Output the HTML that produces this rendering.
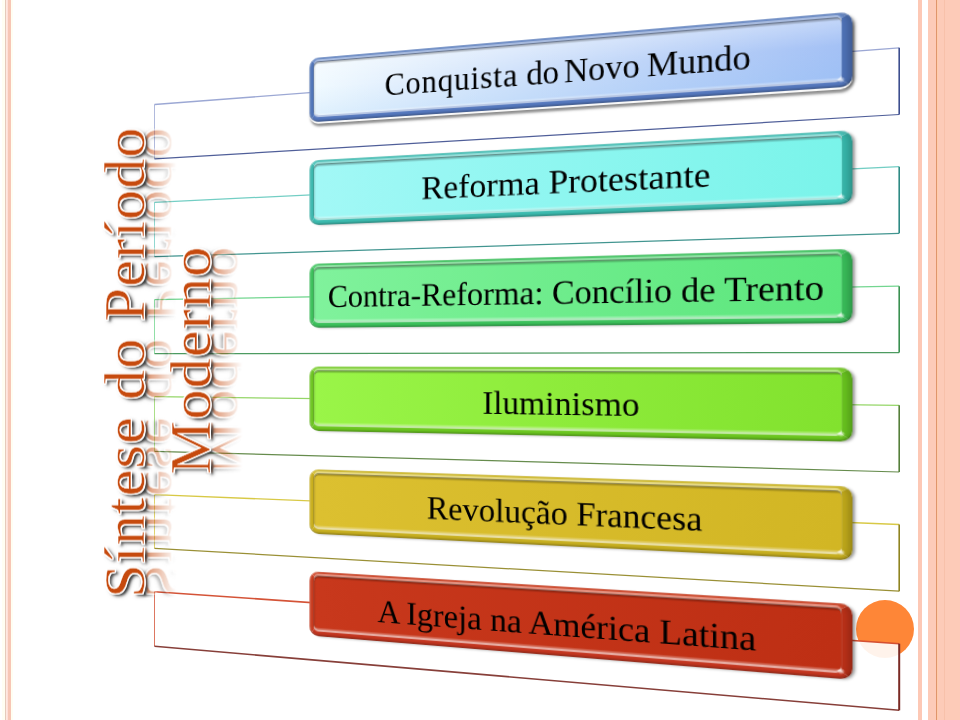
<!DOCTYPE html>
<html lang="pt"><head><meta charset="utf-8"><title>Síntese do Período Moderno</title>
<style>
html,body{margin:0;padding:0;background:#fff;}
body{width:960px;height:720px;position:relative;overflow:hidden;font-family:"Liberation Serif",serif;}
.a{position:absolute;}
.box{position:absolute;left:0;top:0;box-sizing:border-box;transform-origin:0 0;border-style:solid;border-width:5px 9px 7px 5px;border-radius:10px;
 display:flex;align-items:center;justify-content:center;color:#000;white-space:nowrap;background-clip:padding-box;
 box-shadow:inset 0 1.5px 1px rgba(0,0,0,.25),inset 1.5px 0 1px rgba(0,0,0,.1),inset 0 -1.5px 1px rgba(255,255,255,.35),3px 1px 3px -1px rgba(0,0,0,.42);}
.box.b1{box-shadow:inset 0 1.5px 1px rgba(0,0,0,.25),inset 1.5px 0 1px rgba(0,0,0,.1),inset 0 -1.5px 1px rgba(255,255,255,.35),0 2px 0 rgba(255,255,255,.95),1px 4.5px 2.5px rgba(0,0,0,.42),3px 2px 3px -1px rgba(0,0,0,.45);}
.box::before{content:"";position:absolute;left:-5px;top:-5px;right:-9px;bottom:-7px;border-radius:10px;
 box-shadow:inset 0 1px 1px rgba(255,255,255,.18),inset 1.5px 0 1.5px rgba(255,255,255,.25),inset -4px 0 4px rgba(0,0,0,.15),inset 0 -1.5px 1.5px rgba(0,0,0,.22);}
.box::after{content:"";position:absolute;right:-3px;bottom:-3px;width:7px;height:6px;border-radius:50%;background:radial-gradient(closest-side,rgba(255,255,255,.85),rgba(255,255,255,0));}
.box i{position:absolute;left:0;top:0;right:0;bottom:0;border-radius:5px;
 box-shadow:0 -1px .6px rgba(0,0,0,.34),0 -2.8px .8px rgba(255,255,255,.42),0 1.6px .8px rgba(255,255,255,.6),-1px 0 .6px rgba(0,0,0,.16);}
.box span{position:relative;display:inline-block;}
.tw{position:absolute;left:0;top:720px;width:720px;height:300px;transform-origin:0 0;transform:rotate(-90deg);}
.tl{position:absolute;left:357.5px;white-space:nowrap;font-size:57.5px;line-height:57.5px;transform:translateX(-50%) scaleX(1.045);letter-spacing:1.1px;color:#c64a0e;}
.tm{-webkit-box-reflect:below -18.7px linear-gradient(to bottom,transparent 17px,rgba(0,0,0,.62) 48px,rgba(0,0,0,.62) 58px);-webkit-text-stroke:.45px #fff;text-shadow:-1px 0 0 #fff,1px 0 0 #fff,0 -1px 0 #fff,0 1px 0 #fff,-1px -1px 0 #fff,1px 1px 0 #fff,-1px 1px 0 #fff,1px -1px 0 #fff,-2px 3px 2.5px rgba(40,40,40,.85),-2px 3px 4px rgba(60,60,60,.6);}
</style></head><body>
<div class="a" style="left:2px;top:0;width:11px;height:720px;background:#fffef2"></div>
<div class="a" style="left:5px;top:0;width:1px;height:720px;background:#e5cbbb"></div>
<div class="a" style="left:6px;top:0;width:2px;height:720px;background:linear-gradient(90deg,#ffece6,#fddcd2)"></div>
<div class="a" style="left:8px;top:0;width:3px;height:720px;background:#f7c6b5"></div>
<div class="a" style="left:918px;top:0;width:4px;height:720px;background:#fdc8b5"></div>
<div class="a" style="left:928px;top:0;width:32px;height:720px;background:#fdcbb8"></div>
<div class="a" style="left:936px;top:0;width:1px;height:720px;background:#e0956c"></div>
<div class="a" style="left:937px;top:0;width:1px;height:720px;background:#ffcdab"></div>
<div class="a" style="left:944px;top:0;width:1px;height:720px;background:#f8c1aa"></div>
<div class="a" style="left:856px;top:600px;width:58px;height:58px;border-radius:50%;background:#fe8637"></div>

<svg class="a" style="left:0;top:0" width="960" height="720" viewBox="0 0 960 720">
<polygon points="154.5,104.5 899.2,47.8 899.2,114.5 154.5,158.8" fill="rgba(255,255,255,.9)"/>
<line x1="154.5" y1="104.5" x2="154.5" y2="158.8" stroke="#97a3d2" stroke-width="1" stroke-opacity=".75"/>
<line x1="154.5" y1="104.5" x2="899.2" y2="47.8" stroke="#97a3d2" stroke-width="1.30" stroke-opacity=".95"/>
<line x1="154.5" y1="158.8" x2="899.2" y2="114.5" stroke="#3d4e8e" stroke-width="1.25" stroke-opacity=".9"/>
<line x1="899.2" y1="47.8" x2="899.2" y2="114.5" stroke="#3d4e8e" stroke-width="1.60"/>
<polygon points="154.5,202.3 899.2,166.7 899.2,233.3 154.5,256.7" fill="rgba(255,255,255,.9)"/>
<line x1="154.5" y1="202.3" x2="154.5" y2="256.7" stroke="#6ccbc1" stroke-width="1" stroke-opacity=".75"/>
<line x1="154.5" y1="202.3" x2="899.2" y2="166.7" stroke="#6ccbc1" stroke-width="1.30" stroke-opacity=".95"/>
<line x1="154.5" y1="256.7" x2="899.2" y2="233.3" stroke="#2e8a84" stroke-width="1.25" stroke-opacity=".9"/>
<line x1="899.2" y1="166.7" x2="899.2" y2="233.3" stroke="#2e8a84" stroke-width="1.60"/>
<polygon points="154.5,299.7 899.2,286.2 899.2,352.5 154.5,353.7" fill="rgba(255,255,255,.9)"/>
<line x1="154.5" y1="299.7" x2="154.5" y2="353.7" stroke="#6cd48a" stroke-width="1" stroke-opacity=".75"/>
<line x1="154.5" y1="299.7" x2="899.2" y2="286.2" stroke="#6cd48a" stroke-width="1.30" stroke-opacity=".95"/>
<line x1="154.5" y1="353.7" x2="899.2" y2="352.5" stroke="#3a9050" stroke-width="1.25" stroke-opacity=".9"/>
<line x1="899.2" y1="286.2" x2="899.2" y2="352.5" stroke="#3a9050" stroke-width="1.60"/>
<polygon points="154.5,396.7 899.2,405.3 899.2,472.0 154.5,451.3" fill="rgba(255,255,255,.9)"/>
<line x1="154.5" y1="396.7" x2="154.5" y2="451.3" stroke="#8fd460" stroke-width="1" stroke-opacity=".75"/>
<line x1="154.5" y1="396.7" x2="899.2" y2="405.3" stroke="#8fd460" stroke-width="1.30" stroke-opacity=".95"/>
<line x1="154.5" y1="451.3" x2="899.2" y2="472.0" stroke="#557f3a" stroke-width="1.25" stroke-opacity=".9"/>
<line x1="899.2" y1="405.3" x2="899.2" y2="472.0" stroke="#557f3a" stroke-width="1.60"/>
<polygon points="154.5,494.7 899.2,524.5 899.2,591.2 154.5,548.3" fill="rgba(255,255,255,.9)"/>
<line x1="154.5" y1="494.7" x2="154.5" y2="548.3" stroke="#d6c63c" stroke-width="1" stroke-opacity=".75"/>
<line x1="154.5" y1="494.7" x2="899.2" y2="524.5" stroke="#d6c63c" stroke-width="1.30" stroke-opacity=".95"/>
<line x1="154.5" y1="548.3" x2="899.2" y2="591.2" stroke="#8f8420" stroke-width="1.25" stroke-opacity=".9"/>
<line x1="899.2" y1="524.5" x2="899.2" y2="591.2" stroke="#8f8420" stroke-width="1.60"/>
<polygon points="154.5,591.7 899.2,643.7 899.2,710.3 154.5,646.3" fill="rgba(255,255,255,.9)"/>
<line x1="154.5" y1="591.7" x2="154.5" y2="646.3" stroke="#d24a2c" stroke-width="1" stroke-opacity=".75"/>
<line x1="154.5" y1="591.7" x2="899.2" y2="643.7" stroke="#d24a2c" stroke-width="1.62" stroke-opacity=".95"/>
<line x1="154.5" y1="646.3" x2="899.2" y2="710.3" stroke="#7a2a24" stroke-width="1.56" stroke-opacity=".9"/>
<line x1="899.2" y1="643.7" x2="899.2" y2="710.3" stroke="#7a2a24" stroke-width="2.00"/>
</svg>
<div class="box b1" style="width:525px;height:69px;font-size:34px;transform:matrix3d(0.79848254,-0.092326349,0,-0.0002768254,0,0.92898551,0,0,0,0,1,0,309.4,58.3,0,1);background-image:linear-gradient(180deg,rgba(255,255,255,.35),rgba(255,255,255,0) 45%,rgba(130,190,245,.16)),linear-gradient(90deg,#f1faff,#a4c1f5);border-color:#6c8ecc #4d70b4 #5578be #4f74b8"><i></i><span style="transform:translateY(0.8px) scaleX(0.951)"><span style="letter-spacing:.85px">Conquista</span> do <span style="margin-left:-3.5px">Novo</span> <span style="margin-left:-1.5px">Mundo</span></span></div>
<div class="box" style="width:525px;height:69px;font-size:34px;transform:matrix3d(0.8345213,-0.088419872,0,-0.0002345512,0,0.93913043,0,0,0,0,1,0,309.4,160.5,0,1);background-image:linear-gradient(90deg,#a2f8f6,#7af4ea);border-color:#4cc6bc #36b4a8 #3cbcb0 #3cb8ae"><i></i><span style="transform:translateY(1.6px) scaleX(1.008)">Reforma Protestante</span></div>
<div class="box" style="width:525px;height:69px;font-size:34px;transform:matrix3d(0.80937204,-0.094267513,0,-0.00026405178,0,0.92753623,0,0,0,0,1,0,309.4,263.8,0,1);background-image:linear-gradient(90deg,#80f29c,#5ce67c);border-color:#46cc66 #38ba58 #3cc25c #3bc05a"><i></i><span style="transform:translateY(2.0px) scaleX(0.969)">Contra-Reforma: Concílio de Trento</span></div>
<div class="box" style="width:525px;height:69px;font-size:34px;transform:matrix3d(0.81782236,-0.091491465,0,-0.00025413939,0,0.93188406,0,0,0,0,1,0,309.4,366.5,0,1);background-image:linear-gradient(90deg,#9af548,#82e22e);border-color:#7fd630 #66c01e #6cc820 #6cc420"><i></i><span style="transform:translateY(2.5px) scaleX(0.974)">Iluminismo</span></div>
<div class="box" style="width:525px;height:69px;font-size:34px;transform:matrix3d(0.82191273,-0.088327228,0,-0.0002493413,0,0.93333333,0,0,0,0,1,0,309.4,469.1,0,1);background-image:linear-gradient(90deg,#dcc030,#d2b624);border-color:#d6c030 #bca61a #c8b020 #c8ae1c"><i></i><span style="transform:translateY(2.5px) scaleX(0.974)">Revolução Francesa</span></div>
<div class="box" style="width:525px;height:69px;font-size:34px;transform:matrix3d(0.78811986,-0.11206835,0,-0.00028898103,0,0.93188406,0,0,0,0,1,0,309.4,571.2,0,1);background-image:linear-gradient(90deg,#c8381c,#be2f14);border-color:#d4482a #b83018 #c43620 #c83a1e"><i></i><span style="transform:translateY(4.0px) scaleX(0.994)">A Igreja na América Latina</span></div>
<div class="tw">
<div class="tl tm" style="top:96.44px">Síntese do Período</div>
<div class="tl tm" style="top:162.24px;left:359.7px;transform:translateX(-50%) scaleX(1.047)">Moderno</div>
</div>
</body></html>
